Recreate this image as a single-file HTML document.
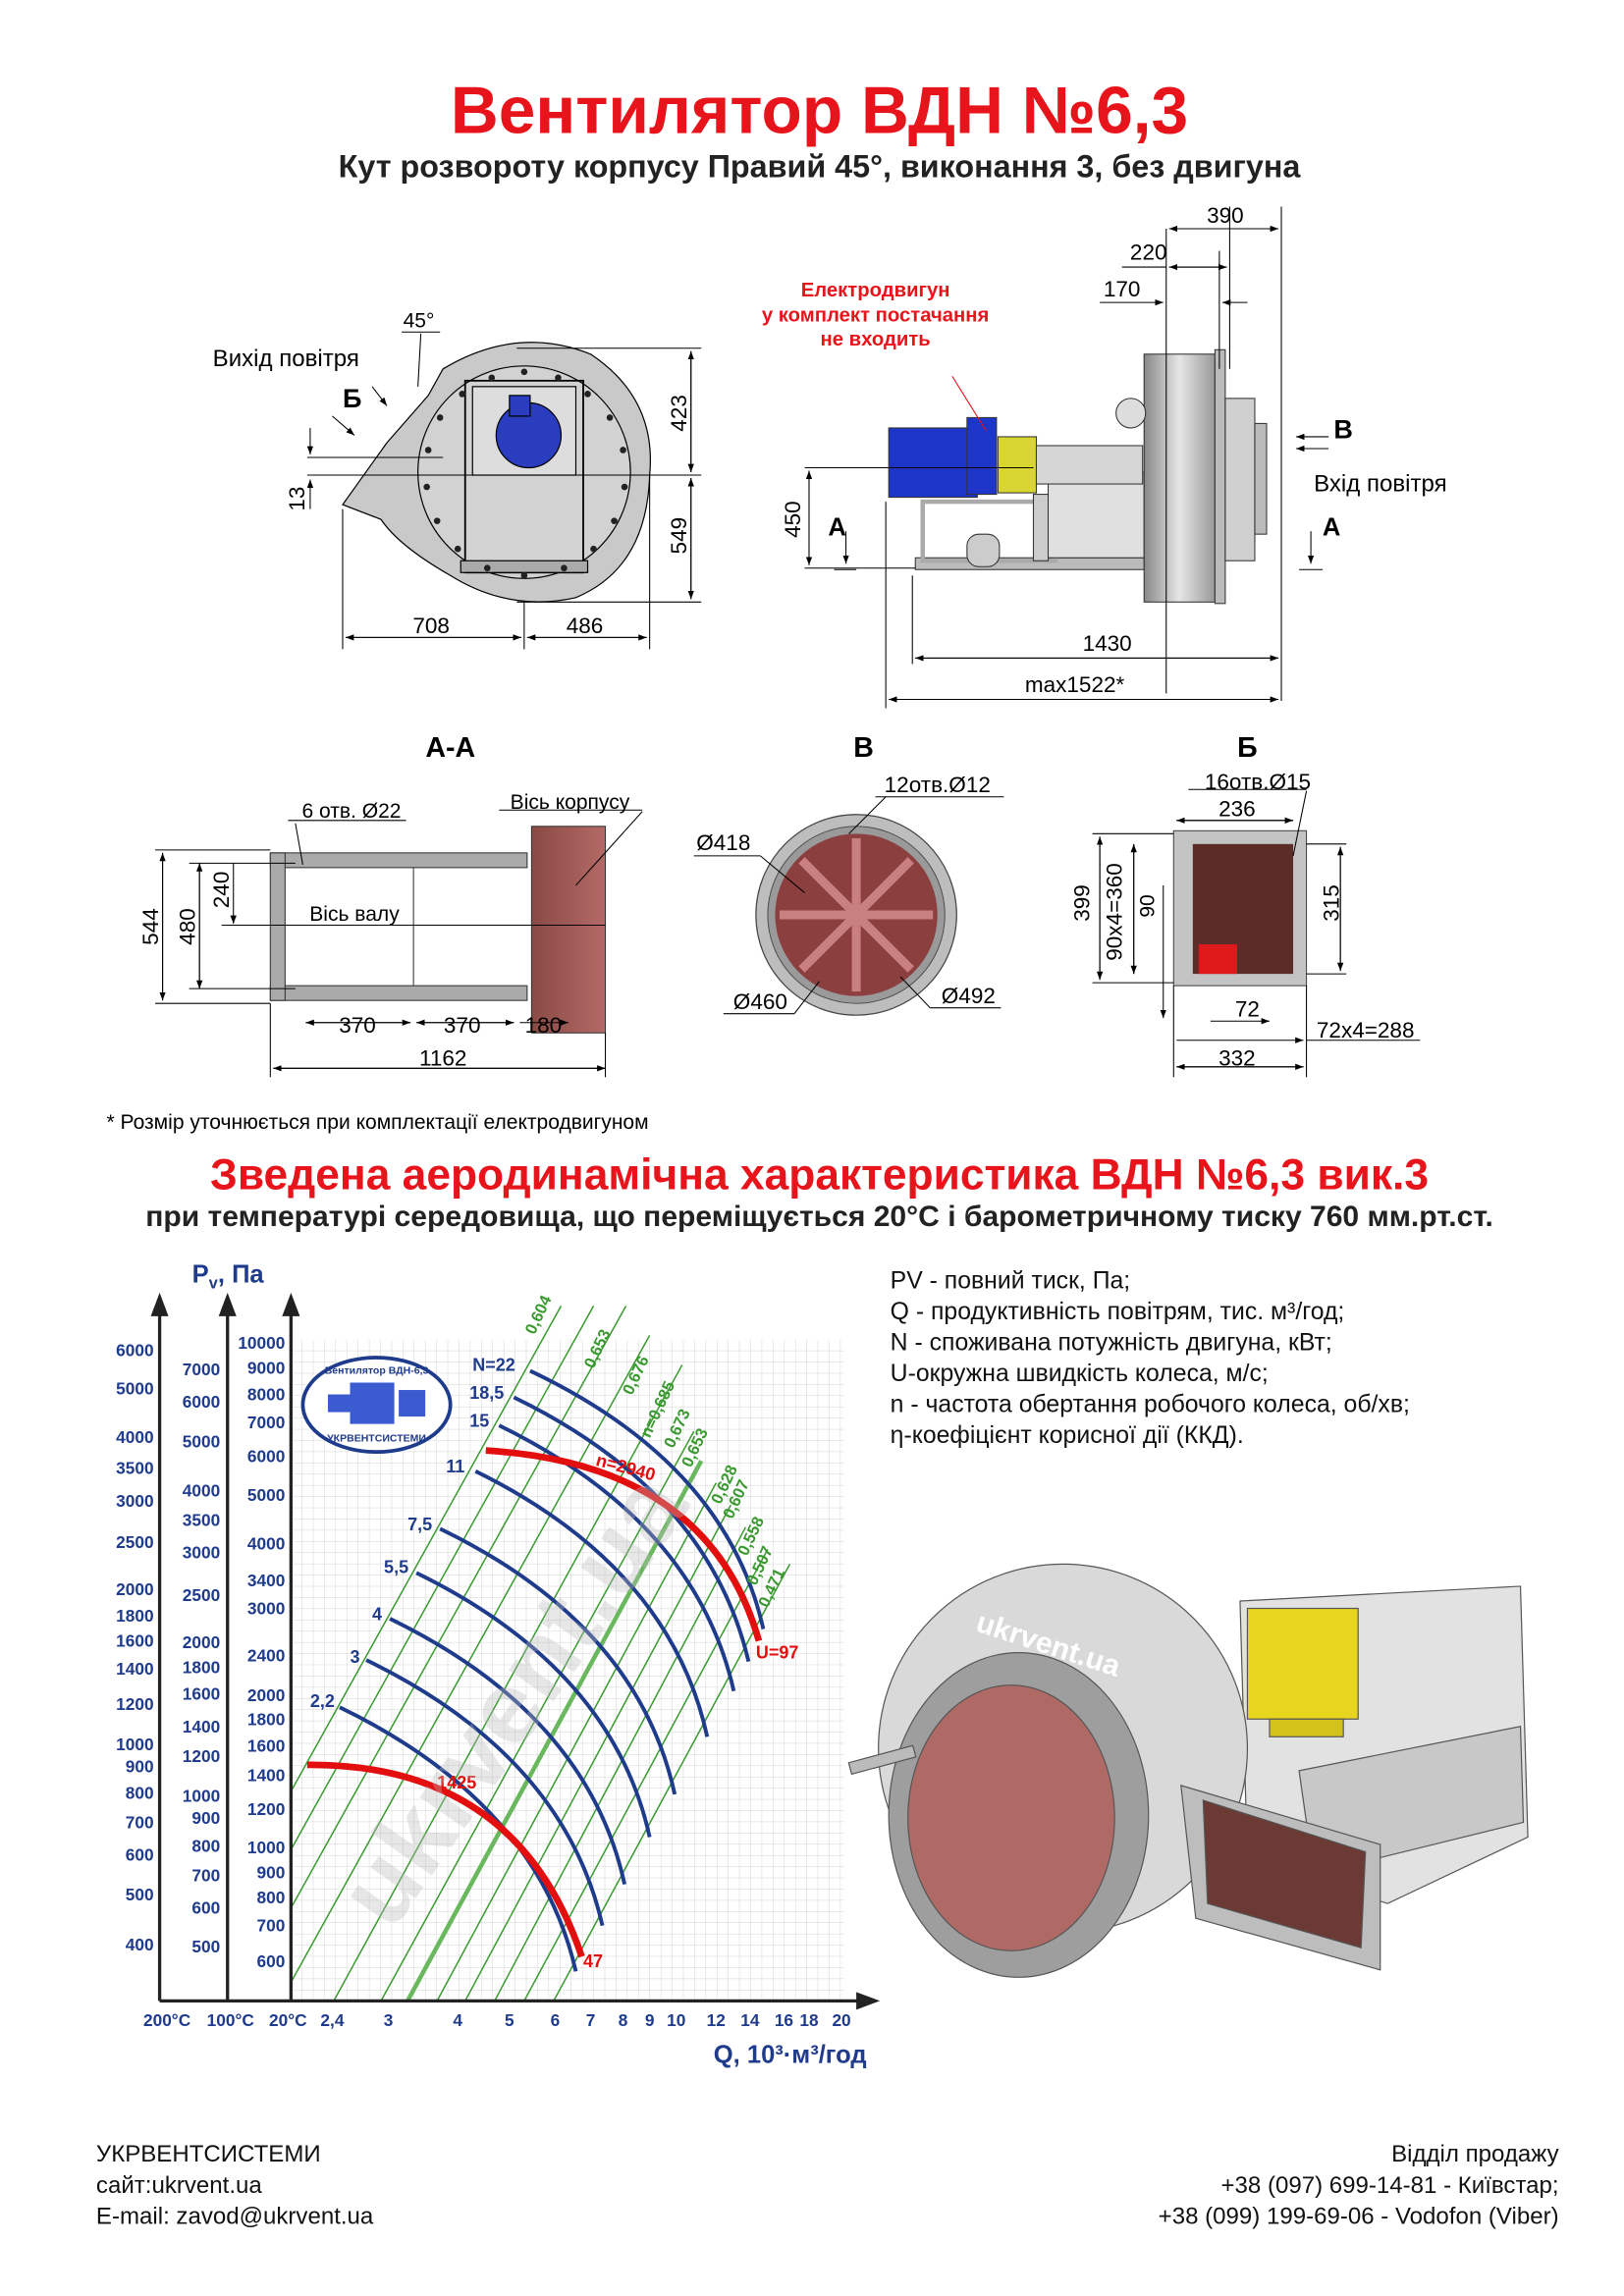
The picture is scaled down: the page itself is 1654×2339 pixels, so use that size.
<!DOCTYPE html>
<html><head><meta charset="utf-8"><style>
html,body{margin:0;padding:0;background:#fff}
svg{display:block}
text{font-family:"Liberation Sans",Arial,sans-serif}
</style></head><body>
<svg width="1654" height="2339" viewBox="0 0 1100 1556" xmlns="http://www.w3.org/2000/svg">
<defs>
<pattern id="g" x="197" y="908" width="7.6" height="7.6" patternUnits="userSpaceOnUse"><path d="M7.6 0V7.6M0 7.6H7.6" stroke="#d4d4d4" stroke-width="0.7" fill="none"/></pattern>
<clipPath id="gc"><rect x="197" y="880" width="375" height="478"/></clipPath>
<linearGradient id="cyl" x1="0" x2="1"><stop offset="0" stop-color="#8a4a44"/><stop offset="1" stop-color="#b46a66"/></linearGradient>
<linearGradient id="wheel" x1="0" x2="1"><stop offset="0" stop-color="#888"/><stop offset=".5" stop-color="#e6e6e6"/><stop offset="1" stop-color="#999"/></linearGradient>
<marker id="ar" markerWidth="8" markerHeight="6" refX="8" refY="3" orient="auto"><path d="M0 0L8 3L0 6z" fill="#000"/></marker>
</defs>

<text x="555" y="90" font-size="45" font-weight="bold" fill="#e8141b" text-anchor="middle">Вентилятор  ВДН №6,3</text>
<text x="555" y="120" font-size="21.5" font-weight="bold" fill="#222" text-anchor="middle">Кут розвороту корпусу Правий 45°, виконання 3, без двигуна</text>

<g stroke="#000" stroke-width="0.8">
<path d="M300 250 Q350 220 400 240 Q445 270 440 322 Q438 385 390 405 Q345 415 305 390 Q270 370 258 352 L232 342 L262 300 L290 268 Z" fill="#c9c9c9"/>
<circle cx="355" cy="320" r="72" fill="#d2d2d2"/>
<rect x="315" y="258" width="80" height="130" fill="none" stroke-width="1.2"/>
<rect x="320" y="262" width="70" height="60" fill="#ddd"/>
<circle cx="358" cy="295" r="22" fill="#2a3dbf"/>
<rect x="345" y="268" width="14" height="14" fill="#2a3dbf"/>
<rect x="312" y="380" width="86" height="8" fill="#aaa"/>
</g>
<g fill="#222">
<circle cx="355" cy="252" r="2.2"/><circle cx="378" cy="256" r="2.2"/><circle cx="398" cy="267" r="2.2"/><circle cx="413" cy="283" r="2.2"/><circle cx="422" cy="305" r="2.2"/><circle cx="423" cy="330" r="2.2"/><circle cx="416" cy="353" r="2.2"/><circle cx="402" cy="372" r="2.2"/><circle cx="382" cy="385" r="2.2"/><circle cx="355" cy="390" r="2.2"/><circle cx="330" cy="385" r="2.2"/><circle cx="310" cy="372" r="2.2"/><circle cx="296" cy="353" r="2.2"/><circle cx="289" cy="330" r="2.2"/><circle cx="290" cy="305" r="2.2"/><circle cx="298" cy="283" r="2.2"/><circle cx="313" cy="267" r="2.2"/><circle cx="333" cy="256" r="2.2"/>
</g>
<g stroke="#000" stroke-width="0.7" fill="none">
<line x1="350" y1="236" x2="475" y2="236"/><line x1="440" y1="322" x2="475" y2="322"/><line x1="350" y1="408" x2="475" y2="408"/>
<line x1="468" y1="238" x2="468" y2="320" marker-end="url(#ar)"/><line x1="468" y1="320" x2="468" y2="238" marker-end="url(#ar)"/>
<line x1="468" y1="324" x2="468" y2="406" marker-end="url(#ar)"/><line x1="468" y1="406" x2="468" y2="324" marker-end="url(#ar)"/>
<line x1="232" y1="345" x2="232" y2="440"/><line x1="355" y1="408" x2="355" y2="440"/><line x1="440" y1="322" x2="440" y2="440"/>
<line x1="234" y1="432" x2="353" y2="432" marker-end="url(#ar)"/><line x1="353" y1="432" x2="234" y2="432" marker-end="url(#ar)"/>
<line x1="357" y1="432" x2="438" y2="432" marker-end="url(#ar)"/><line x1="438" y1="432" x2="357" y2="432" marker-end="url(#ar)"/>
<line x1="208" y1="310" x2="300" y2="310"/><line x1="208" y1="322" x2="440" y2="322"/>
<line x1="210" y1="290" x2="210" y2="308" marker-end="url(#ar)"/><line x1="210" y1="345" x2="210" y2="325" marker-end="url(#ar)"/>
<line x1="272" y1="225" x2="298" y2="225"/><line x1="285" y1="226" x2="283" y2="262"/>
<line x1="252" y1="262" x2="262" y2="275" marker-end="url(#ar)"/><line x1="225" y1="282" x2="240" y2="295" marker-end="url(#ar)"/>
</g>
<text x="144" y="248" font-size="16">Вихід повітря</text>
<text x="232" y="276" font-size="18" font-weight="bold">Б</text>
<text x="273" y="222" font-size="14">45°</text>
<text x="292" y="429" font-size="15" text-anchor="middle">708</text>
<text x="396" y="429" font-size="15" text-anchor="middle">486</text>
<text transform="translate(465,280) rotate(-90)" font-size="15" text-anchor="middle">423</text>
<text transform="translate(465,363) rotate(-90)" font-size="15" text-anchor="middle">549</text>
<text transform="translate(206,338) rotate(-90)" font-size="15" text-anchor="middle">13</text>

<g stroke="#333" stroke-width="0.7">
<rect x="620" y="378" width="155" height="8" fill="#bbb"/>
<rect x="625" y="340" width="90" height="40" fill="none" stroke-width="3" stroke="#aaa"/>
<rect x="700" y="335" width="10" height="45" fill="#ccc"/>
<rect x="710" y="320" width="65" height="58" fill="#e0e0e0"/>
<rect x="655" y="362" width="22" height="22" rx="8" fill="#ccc"/>
<rect x="602" y="290" width="60" height="47" fill="#1d35c8"/>
<rect x="655" y="283" width="20" height="52" fill="#1d35c8"/>
<rect x="676" y="296" width="26" height="38" fill="#d9d633"/>
<rect x="702" y="302" width="72" height="26" fill="#d6d6d6"/>
<rect x="775" y="240" width="48" height="168" fill="url(#wheel)"/>
<rect x="823" y="237" width="7" height="172" fill="#bbb"/>
<rect x="830" y="270" width="20" height="110" fill="#d0d0d0"/>
<rect x="850" y="287" width="8" height="75" fill="#bbb"/>
<circle cx="766" cy="280" r="10" fill="#ddd"/>
</g>
<g stroke="#000" stroke-width="0.7" fill="none">
<line x1="645" y1="255" x2="668" y2="292" stroke="#e8141b"/>
<line x1="790" y1="155" x2="790" y2="470"/><line x1="833" y1="140" x2="833" y2="250"/><line x1="868" y1="140" x2="868" y2="475"/><line x1="826" y1="170" x2="826" y2="250"/>
<line x1="792" y1="155" x2="866" y2="155" marker-end="url(#ar)"/><line x1="866" y1="155" x2="792" y2="155" marker-end="url(#ar)"/>
<line x1="760" y1="181" x2="790" y2="181"/><line x1="792" y1="181" x2="831" y2="181" marker-end="url(#ar)"/><line x1="831" y1="181" x2="792" y2="181" marker-end="url(#ar)"/>
<line x1="745" y1="205" x2="788" y2="205" marker-end="url(#ar)"/><line x1="845" y1="205" x2="828" y2="205" marker-end="url(#ar)"/>
<line x1="545" y1="317" x2="700" y2="317"/><line x1="545" y1="385" x2="620" y2="385"/>
<line x1="548" y1="319" x2="548" y2="383" marker-end="url(#ar)"/><line x1="548" y1="383" x2="548" y2="319" marker-end="url(#ar)"/>
<line x1="618" y1="390" x2="618" y2="450"/><line x1="600" y1="340" x2="600" y2="480"/>
<line x1="620" y1="446" x2="866" y2="446" marker-end="url(#ar)"/><line x1="866" y1="446" x2="620" y2="446" marker-end="url(#ar)"/>
<line x1="602" y1="474" x2="866" y2="474" marker-end="url(#ar)"/><line x1="866" y1="474" x2="602" y2="474" marker-end="url(#ar)"/>
<line x1="573" y1="360" x2="573" y2="382" marker-end="url(#ar)"/><line x1="565" y1="386" x2="580" y2="386"/>
<line x1="888" y1="360" x2="888" y2="382" marker-end="url(#ar)"/><line x1="880" y1="386" x2="896" y2="386"/>
<line x1="900" y1="296" x2="878" y2="296" marker-end="url(#ar)"/><line x1="900" y1="304" x2="878" y2="304" marker-end="url(#ar)"/>
</g>
<text x="593" y="201" font-size="13.5" font-weight="bold" fill="#e8141b" text-anchor="middle">Електродвигун</text>
<text x="593" y="218" font-size="13.5" font-weight="bold" fill="#e8141b" text-anchor="middle">у комплект постачання</text>
<text x="593" y="234" font-size="13.5" font-weight="bold" fill="#e8141b" text-anchor="middle">не входить</text>
<text x="830" y="151" font-size="15" text-anchor="middle">390</text>
<text x="778" y="176" font-size="15" text-anchor="middle">220</text>
<text x="760" y="201" font-size="15" text-anchor="middle">170</text>
<text x="750" y="441" font-size="15" text-anchor="middle">1430</text>
<text x="728" y="469" font-size="15" text-anchor="middle">max1522*</text>
<text transform="translate(542,352) rotate(-90)" font-size="15" text-anchor="middle">450</text>
<text x="567" y="363" font-size="17" font-weight="bold" text-anchor="middle">А</text>
<text x="902" y="363" font-size="17" font-weight="bold" text-anchor="middle">А</text>
<text x="910" y="297" font-size="18" font-weight="bold" text-anchor="middle">В</text>
<text x="890" y="333" font-size="16">Вхід повітря</text>

<text x="305" y="513" font-size="19" font-weight="bold" text-anchor="middle">А-А</text>
<text x="585" y="513" font-size="19" font-weight="bold" text-anchor="middle">В</text>
<text x="845" y="513" font-size="19" font-weight="bold" text-anchor="middle">Б</text>

<g stroke="#333" stroke-width="0.7">
<rect x="183" y="578" width="174" height="10" fill="#aaa"/>
<rect x="183" y="668" width="174" height="10" fill="#aaa"/>
<rect x="183" y="578" width="10" height="100" fill="#aaa"/>
<line x1="280" y1="588" x2="280" y2="668"/>
<rect x="360" y="560" width="50" height="140" fill="url(#cyl)"/>
</g>
<g stroke="#000" stroke-width="0.7" fill="none">
<line x1="105" y1="576" x2="183" y2="576"/><line x1="105" y1="680" x2="183" y2="680"/>
<line x1="110" y1="578" x2="110" y2="678" marker-end="url(#ar)"/><line x1="110" y1="678" x2="110" y2="578" marker-end="url(#ar)"/>
<line x1="135" y1="585" x2="135" y2="670" marker-end="url(#ar)"/><line x1="135" y1="670" x2="135" y2="585" marker-end="url(#ar)"/>
<line x1="128" y1="585" x2="200" y2="585"/><line x1="128" y1="670" x2="200" y2="670"/>
<line x1="158" y1="585" x2="158" y2="626" marker-end="url(#ar)"/><line x1="150" y1="627" x2="410" y2="627"/>
<line x1="207" y1="693" x2="278" y2="693" marker-end="url(#ar)"/><line x1="278" y1="693" x2="207" y2="693" marker-end="url(#ar)"/>
<line x1="282" y1="693" x2="348" y2="693" marker-end="url(#ar)"/><line x1="348" y1="693" x2="282" y2="693" marker-end="url(#ar)"/>
<line x1="352" y1="693" x2="385" y2="693" marker-end="url(#ar)"/>
<line x1="185" y1="724" x2="410" y2="724" marker-end="url(#ar)"/><line x1="410" y1="724" x2="185" y2="724" marker-end="url(#ar)"/>
<line x1="183" y1="680" x2="183" y2="730"/><line x1="410" y1="700" x2="410" y2="730"/>
<line x1="195" y1="556" x2="275" y2="556"/><line x1="200" y1="558" x2="205" y2="586"/>
<line x1="338" y1="549" x2="435" y2="549"/><line x1="435" y1="550" x2="390" y2="600"/>
</g>
<text x="238" y="554" font-size="14" text-anchor="middle">6 отв. Ø22</text>
<text x="386" y="548" font-size="14" text-anchor="middle">Вісь корпусу</text>
<text x="240" y="624" font-size="14" text-anchor="middle">Вісь валу</text>
<text transform="translate(107,628) rotate(-90)" font-size="15" text-anchor="middle">544</text>
<text transform="translate(132,628) rotate(-90)" font-size="15" text-anchor="middle">480</text>
<text transform="translate(155,603) rotate(-90)" font-size="15" text-anchor="middle">240</text>
<text x="242" y="700" font-size="15" text-anchor="middle">370</text>
<text x="313" y="700" font-size="15" text-anchor="middle">370</text>
<text x="368" y="700" font-size="15" text-anchor="middle">180</text>
<text x="300" y="722" font-size="15" text-anchor="middle">1162</text>

<circle cx="580" cy="620" r="68" fill="#bdbdbd" stroke="#444" stroke-width="0.8"/>
<circle cx="580" cy="620" r="60" fill="#9a9a9a" stroke="#444" stroke-width="0.6"/>
<circle cx="580" cy="620" r="55" fill="#8c3f3f"/>
<g stroke="#c98080" stroke-width="6">
<line x1="580" y1="568" x2="580" y2="672"/><line x1="528" y1="620" x2="632" y2="620"/><line x1="543" y1="583" x2="617" y2="657"/><line x1="617" y1="583" x2="543" y2="657"/>
</g>
<g stroke="#000" stroke-width="0.7" fill="none">
<line x1="593" y1="540" x2="680" y2="540"/><line x1="600" y1="540" x2="575" y2="565"/>
<line x1="470" y1="580" x2="515" y2="580"/><line x1="515" y1="580" x2="545" y2="605"/>
<line x1="490" y1="687" x2="538" y2="687"/><line x1="538" y1="687" x2="555" y2="665"/>
<line x1="630" y1="683" x2="678" y2="683"/><line x1="630" y1="683" x2="610" y2="662"/>
</g>
<text x="635" y="537" font-size="15" text-anchor="middle">12отв.Ø12</text>
<text x="490" y="576" font-size="15" text-anchor="middle">Ø418</text>
<text x="515" y="684" font-size="15" text-anchor="middle">Ø460</text>
<text x="656" y="680" font-size="15" text-anchor="middle">Ø492</text>

<rect x="795" y="563" width="90" height="105" fill="#c4c4c4" stroke="#444" stroke-width="0.7"/>
<rect x="808" y="572" width="68" height="88" fill="#5b2c28"/>
<rect x="812" y="640" width="26" height="20" fill="#e01a1a"/>
<g stroke="#000" stroke-width="0.7" fill="none">
<line x1="805" y1="535" x2="885" y2="535"/><line x1="885" y1="536" x2="876" y2="580"/>
<line x1="797" y1="556" x2="876" y2="556" marker-end="url(#ar)"/><line x1="876" y1="556" x2="797" y2="556" marker-end="url(#ar)"/>
<line x1="740" y1="565" x2="795" y2="565"/><line x1="740" y1="666" x2="795" y2="666"/>
<line x1="745" y1="567" x2="745" y2="664" marker-end="url(#ar)"/><line x1="745" y1="664" x2="745" y2="567" marker-end="url(#ar)"/>
<line x1="768" y1="572" x2="768" y2="660" marker-end="url(#ar)"/><line x1="768" y1="660" x2="768" y2="572" marker-end="url(#ar)"/>
<line x1="788" y1="600" x2="788" y2="690" marker-end="url(#ar)"/>
<line x1="885" y1="572" x2="912" y2="572"/><line x1="885" y1="660" x2="912" y2="660"/>
<line x1="908" y1="574" x2="908" y2="658" marker-end="url(#ar)"/><line x1="908" y1="658" x2="908" y2="574" marker-end="url(#ar)"/>
<line x1="795" y1="668" x2="795" y2="730"/><line x1="885" y1="668" x2="885" y2="730"/>
<line x1="797" y1="723" x2="883" y2="723" marker-end="url(#ar)"/><line x1="883" y1="723" x2="797" y2="723" marker-end="url(#ar)"/>
<line x1="797" y1="705" x2="883" y2="705" marker-end="url(#ar)"/><line x1="885" y1="705" x2="962" y2="705"/>
<line x1="820" y1="692" x2="860" y2="692" marker-end="url(#ar)"/>
</g>
<text x="852" y="535" font-size="15" text-anchor="middle">16отв.Ø15</text>
<text x="838" y="553" font-size="15" text-anchor="middle">236</text>
<text transform="translate(738,612) rotate(-90)" font-size="15" text-anchor="middle">399</text>
<text transform="translate(760,618) rotate(-90)" font-size="15" text-anchor="middle">90x4=360</text>
<text transform="translate(782,614) rotate(-90)" font-size="14" text-anchor="middle">90</text>
<text transform="translate(907,612) rotate(-90)" font-size="15" text-anchor="middle">315</text>
<text x="845" y="689" font-size="15" text-anchor="middle">72</text>
<text x="925" y="703" font-size="15" text-anchor="middle">72x4=288</text>
<text x="838" y="722" font-size="15" text-anchor="middle">332</text>

<text x="72" y="765" font-size="14">* Розмір уточнюється при комплектації електродвигуном</text>
<text x="555" y="806" font-size="29.5" font-weight="bold" fill="#e8141b" text-anchor="middle">Зведена аеродинамічна характеристика ВДН №6,3 вик.3</text>
<text x="555" y="831" font-size="20" font-weight="bold" fill="#222" text-anchor="middle">при температурі середовища, що переміщується 20°С і барометричному тиску 760 мм.рт.ст.</text>

<rect x="197" y="908" width="375" height="448" fill="url(#g)"/>
<g clip-path="url(#gc)" stroke="#3a9a30" stroke-width="1">
<line x1="118" y1="1356" x2="380" y2="885"/><line x1="140" y1="1356" x2="402" y2="885"/><line x1="162" y1="1356" x2="424" y2="885"/>
<line x1="190" y1="1356" x2="440" y2="905"/><line x1="226" y1="1356" x2="462" y2="925"/><line x1="258" y1="1356" x2="470" y2="970"/>
<line x1="276" y1="1356" x2="475" y2="990" stroke-width="3" stroke="#6ab85e"/><line x1="296" y1="1356" x2="485" y2="1005"/>
<line x1="315" y1="1356" x2="495" y2="1020"/><line x1="335" y1="1356" x2="505" y2="1035"/><line x1="355" y1="1356" x2="520" y2="1050"/>
<line x1="375" y1="1356" x2="535" y2="1060"/>
</g>
<g fill="none" stroke="#1f3b8c" stroke-width="2.6">
<path d="M359 929 Q492 992 517 1104"/>
<path d="M348 947 Q480 1011 507 1126"/>
<path d="M338 966 Q471 1031 497 1146"/>
<path d="M322 997 Q454 1062 479 1177"/>
<path d="M298 1036 Q432 1101 457 1216"/>
<path d="M282 1066 Q415 1131 440 1245"/>
<path d="M264 1097 Q398 1162 423 1277"/>
<path d="M248 1125 Q382 1190 408 1305"/>
<path d="M230 1157 Q364 1222 390 1336"/>
</g>
<path d="M329 983 Q480 992 514 1112" fill="none" stroke="#e30e0e" stroke-width="4.5"/>
<path d="M208 1196 Q350 1195 394 1326" fill="none" stroke="#e30e0e" stroke-width="4.5"/>
<g font-size="12" font-weight="bold" fill="#1f3b8c">
<text x="320" y="929">N=22</text><text x="318" y="948">18,5</text><text x="318" y="967">15</text><text x="302" y="998">11</text>
<text x="276" y="1037">7,5</text><text x="260" y="1066">5,5</text><text x="252" y="1098">4</text><text x="237" y="1127">3</text><text x="210" y="1157">2,2</text>
</g>
<g font-size="12" font-weight="bold" fill="#e30e0e">
<text x="403" y="993" transform="rotate(15 403 993)">n=2940</text><text x="512" y="1124">U=97</text><text x="395" y="1333">47</text><text x="296" y="1212">1425</text>
</g>
<g font-size="11" font-weight="bold" fill="#3a9a30">
<text transform="translate(362,905) rotate(-65)">0,604</text><text transform="translate(402,928) rotate(-65)">0,653</text>
<text transform="translate(428,946) rotate(-65)">0,676</text><text transform="translate(440,975) rotate(-65)">n=0,685</text>
<text transform="translate(456,982) rotate(-65)">0,673</text><text transform="translate(468,995) rotate(-65)">0,653</text>
<text transform="translate(488,1020) rotate(-65)">0,628</text><text transform="translate(496,1030) rotate(-65)">0,607</text>
<text transform="translate(506,1055) rotate(-65)">0,558</text><text transform="translate(512,1075) rotate(-65)">0,507</text><text transform="translate(520,1090) rotate(-65)">0,471</text>
</g>
<g stroke="#222" stroke-width="2.2">
<line x1="108" y1="888" x2="108" y2="1356"/><line x1="154" y1="888" x2="154" y2="1356"/><line x1="197" y1="888" x2="197" y2="1356"/>
<line x1="108" y1="1356" x2="585" y2="1356"/>
</g>
<g fill="#222"><path d="M102 892L108 876L114 892z"/><path d="M148 892L154 876L160 892z"/><path d="M191 892L197 876L203 892z"/><path d="M580 1350L596 1356L580 1362z"/></g>
<text x="130" y="869" font-size="17" font-weight="bold" fill="#1f3b8c">P<tspan font-size="11" dy="4">v</tspan><tspan dy="-4">, Па</tspan></text>
<g font-size="11.5" font-weight="bold" fill="#1f3b8c" text-anchor="end">
<text x="104" y="919">6000</text><text x="104" y="945">5000</text><text x="104" y="978">4000</text><text x="104" y="999">3500</text><text x="104" y="1021">3000</text><text x="104" y="1049">2500</text><text x="104" y="1081">2000</text><text x="104" y="1099">1800</text><text x="104" y="1116">1600</text><text x="104" y="1135">1400</text><text x="104" y="1159">1200</text><text x="104" y="1186">1000</text><text x="104" y="1201">900</text><text x="104" y="1219">800</text><text x="104" y="1239">700</text><text x="104" y="1261">600</text><text x="104" y="1288">500</text><text x="104" y="1322">400</text>
<text x="149" y="932">7000</text><text x="149" y="954">6000</text><text x="149" y="981">5000</text><text x="149" y="1014">4000</text><text x="149" y="1034">3500</text><text x="149" y="1056">3000</text><text x="149" y="1085">2500</text><text x="149" y="1117">2000</text><text x="149" y="1134">1800</text><text x="149" y="1152">1600</text><text x="149" y="1174">1400</text><text x="149" y="1194">1200</text><text x="149" y="1221">1000</text><text x="149" y="1236">900</text><text x="149" y="1255">800</text><text x="149" y="1275">700</text><text x="149" y="1297">600</text><text x="149" y="1323">500</text>
<text x="193" y="914">10000</text><text x="193" y="931">9000</text><text x="193" y="949">8000</text><text x="193" y="968">7000</text><text x="193" y="991">6000</text><text x="193" y="1017">5000</text><text x="193" y="1050">4000</text><text x="193" y="1075">3400</text><text x="193" y="1094">3000</text><text x="193" y="1126">2400</text><text x="193" y="1153">2000</text><text x="193" y="1169">1800</text><text x="193" y="1187">1600</text><text x="193" y="1207">1400</text><text x="193" y="1230">1200</text><text x="193" y="1256">1000</text><text x="193" y="1273">900</text><text x="193" y="1290">800</text><text x="193" y="1309">700</text><text x="193" y="1333">600</text>
</g>
<g font-size="11.5" font-weight="bold" fill="#1f3b8c" text-anchor="middle">
<text x="113" y="1373">200°C</text><text x="156" y="1373">100°C</text><text x="195" y="1373">20°C</text><text x="225" y="1373">2,4</text><text x="263" y="1373">3</text><text x="310" y="1373">4</text><text x="345" y="1373">5</text><text x="376" y="1373">6</text><text x="400" y="1373">7</text><text x="422" y="1373">8</text><text x="440" y="1373">9</text><text x="458" y="1373">10</text><text x="485" y="1373">12</text><text x="508" y="1373">14</text><text x="531" y="1373">16</text><text x="548" y="1373">18</text><text x="570" y="1373">20</text>
</g>
<text x="587" y="1398" font-size="17" font-weight="bold" fill="#1f3b8c" text-anchor="end">Q, 10³·м³/год</text>
<ellipse cx="255" cy="952" rx="50" ry="32" fill="#fff" stroke="#1f3b8c" stroke-width="2.5"/>
<rect x="237" y="937" width="30" height="28" fill="#3b5bd0"/><rect x="222" y="945" width="15" height="12" fill="#3b5bd0"/><rect x="270" y="942" width="18" height="18" fill="#3b5bd0"/>
<text x="255" y="931" font-size="7" font-weight="bold" fill="#1f3b8c" text-anchor="middle">Вентилятор ВДН-6,3</text>
<text x="255" y="977" font-size="7" font-weight="bold" fill="#1f3b8c" text-anchor="middle">УКРВЕНТСИСТЕМИ</text>
<text transform="translate(265,1310) rotate(-55)" font-size="70" font-weight="bold" fill="#bbb" opacity="0.35">ukrvent.ua</text>

<g font-size="16.5" fill="#111">
<text x="603" y="873">PV - повний тиск, Па;</text>
<text x="603" y="894">Q - продуктивність повітрям, тис. м³/год;</text>
<text x="603" y="915">N - споживана потужність двигуна, кВт;</text>
<text x="603" y="936">U-окружна швидкість колеса, м/с;</text>
<text x="603" y="957">n - частота обертання робочого колеса, об/хв;</text>
<text x="603" y="978">η-коефіцієнт корисної дії (ККД).</text>
</g>

<g stroke="#555" stroke-width="0.8">
<path d="M840 1085 L1030 1075 L1035 1245 L940 1290 L845 1260 Z" fill="#e2e2e2"/>
<path d="M880 1200 L1030 1170 L1032 1235 L890 1270 Z" fill="#c8c8c8"/>
<ellipse cx="720" cy="1185" rx="125" ry="125" fill="#d9d9d9"/>
<path d="M800 1210 L935 1250 L935 1335 L810 1300 Z" fill="#bdbdbd"/>
<path d="M815 1220 L925 1255 L922 1320 L818 1290 Z" fill="#6b3a35"/>
<ellipse cx="690" cy="1230" rx="88" ry="110" fill="#9e9e9e"/>
<ellipse cx="685" cy="1232" rx="70" ry="90" fill="#b06a66"/>
<rect x="845" y="1090" width="75" height="75" fill="#e8d51e"/>
<rect x="860" y="1165" width="50" height="12" fill="#d4c21a"/>
<rect x="575" y="1188" width="45" height="8" fill="#bbb" transform="rotate(-15 600 1192)"/>
</g>
<text transform="translate(660,1105) rotate(18)" font-size="20" font-weight="bold" fill="#fff">ukrvent.ua</text>

<g font-size="16" fill="#111">
<text x="65" y="1465">УКРВЕНТСИСТЕМИ</text>
<text x="65" y="1486">сайт:ukrvent.ua</text>
<text x="65" y="1507">E-mail: zavod@ukrvent.ua</text>
<text x="1056" y="1465" text-anchor="end">Відділ продажу</text>
<text x="1056" y="1486" text-anchor="end">+38 (097) 699-14-81 - Київстар;</text>
<text x="1056" y="1507" text-anchor="end">+38 (099) 199-69-06 - Vodofon (Viber)</text>
</g>
</svg>
</body></html>
